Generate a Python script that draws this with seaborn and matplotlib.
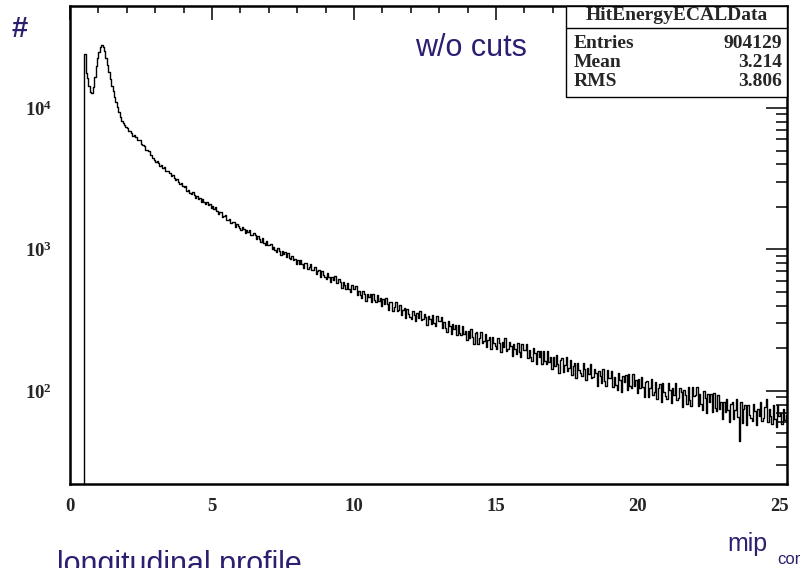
import numpy as np
import pandas as pd
import matplotlib
matplotlib.use("Agg")
import matplotlib.pyplot as plt
import seaborn as sns
from matplotlib.ticker import MultipleLocator, LogLocator, FuncFormatter, NullFormatter
from matplotlib.patches import Rectangle
from matplotlib.lines import Line2D

# ---- histogram contents: entries per 0.05 mip bin, starting at 0 ----
BIN_WIDTH = 0.05
counts_below_threshold = [0] * 10                                           # 0.0 - 0.5
counts_mip_peak = [24000, 17600, 16200, 14300, 13000, 12700, 14100, 16600, 19800, 22600,   # 0.5 - 1.0
                   25000, 26900, 27700, 27100, 25200, 22600, 20100, 18000, 16100, 14400,   # 1.0 - 1.5
                   13200, 12000, 11000, 10100, 9300, 8650, 8150, 7800, 7520, 7300]         # 1.5 - 2.0
counts_2_to_6 = [7190, 6890, 6920, 6610, 6330, 6400, 6280, 5940, 5910, 5910,
                 5580, 5460, 5420, 5070, 5030, 4930, 4620, 4660, 4450, 4280,
                 4120, 4200, 4050, 3860, 3930, 3780, 3830, 3600, 3560, 3580,
                 3470, 3280, 3350, 3220, 3090, 3150, 2980, 2880, 2960, 2820,
                 2770, 2790, 2600, 2630, 2520, 2450, 2530, 2440, 2310, 2380,
                 2290, 2320, 2180, 2270, 2150, 2110, 2180, 2070, 2090, 1970,
                 2040, 1940, 1990, 1880, 1790, 1850, 1830, 1700, 1720, 1740,
                 1620, 1610, 1650, 1530, 1560, 1560, 1450, 1520, 1460, 1420]
counts_6_to_12 = [1380, 1450, 1390, 1310, 1380, 1320, 1370, 1270, 1260, 1300,
                  1260, 1180, 1240, 1190, 1135, 1200, 1115, 1075, 1145, 1080,
                  1070, 1100, 1000, 1040, 990, 955, 1025, 980, 915, 980,
                  935, 958, 878, 940, 873, 851, 906, 841, 856, 790,
                  843, 790, 844, 786, 735, 799, 801, 725, 754, 794,
                  714, 720, 756, 672, 708, 718, 642, 704, 662, 641,
                  619, 679, 640, 588, 641, 604, 651, 576, 579, 615,
                  589, 532, 589, 560, 526, 582, 527, 504, 565, 525,
                  524, 550, 477, 511, 475, 453, 512, 481, 434, 488,
                  458, 483, 426, 485, 436, 425, 477, 430, 451, 400,
                  449, 411, 453, 411, 373, 422, 426, 369, 393, 424,
                  366, 373, 403, 343, 373, 383, 329, 378, 349, 335]
counts_12_to_18 = [322, 369, 346, 310, 353, 329, 368, 315, 320, 352,
                   335, 294, 341, 321, 298, 345, 304, 288, 341, 311,
                   312, 335, 277, 307, 279, 262, 311, 287, 252, 296,
                   273, 293, 248, 294, 255, 247, 288, 252, 267, 229,
                   266, 238, 273, 242, 215, 255, 259, 216, 237, 262,
                   218, 225, 251, 204, 229, 240, 197, 239, 217, 207,
                   199, 237, 217, 189, 223, 204, 235, 193, 197, 221,
                   209, 177, 214, 199, 181, 218, 187, 175, 216, 194,
                   196, 215, 171, 194, 174, 162, 201, 184, 156, 192,
                   175, 192, 156, 193, 162, 156, 190, 160, 173, 143,
                   173, 151, 178, 154, 134, 165, 170, 137, 153, 174,
                   139, 145, 166, 129, 149, 158, 124, 158, 141, 133]
counts_18_to_25 = [128, 158, 142, 119, 146, 131, 156, 123, 126, 144,
                   134, 109, 139, 127, 113, 142, 118, 108, 141, 123,
                   124, 139, 106, 125, 110, 101, 133, 120, 98, 128,
                   115, 129, 101, 132, 109, 104, 132, 109, 120, 96,
                   122, 104, 126, 106, 90, 115, 118, 91, 104, 122,
                   93, 99, 116, 87, 104, 111, 84, 113, 98, 92,
                   88, 113, 101, 82, 105, 93, 113, 86, 89, 105,
                   98, 77, 102, 93, 81, 107, 86, 78, 106, 92,
                   94, 107, 78, 95, 81, 73, 100, 89, 70, 95,
                   83, 95, 71, 96, 76, 72, 94, 75, 83, 63,
                   84, 71, 88, 73, 60, 81, 84, 63, 73, 87,
                   65, 44, 83, 59, 74, 79, 57, 80, 68, 64,
                   61, 81, 72, 57, 75, 66, 83, 61, 64, 77,
                   88, 60, 74, 67, 58, 79, 63, 56, 79, 67]
counts_edge = [70, 58, 74, 62, 68, 66]                                      # 25.0 - 25.3

stat_names = ["Entries", "Mean", "RMS"]
stat_values = ["904129", "3.214", "3.806"]
hist_name = "HitEnergyECALData"

counts = np.array(counts_below_threshold + counts_mip_peak + counts_2_to_6 +
                  counts_6_to_12 + counts_12_to_18 + counts_18_to_25 +
                  counts_edge, dtype=float)
n_bins = len(counts)
hist_hi = round(n_bins * BIN_WIDTH, 3)
centers = (np.arange(n_bins) + 0.5) * BIN_WIDTH
df = pd.DataFrame({"mip": centers, "entries": counts})

# ---- style ----
sns.set_theme(style="white")
plt.rcParams["font.family"] = ["Liberation Serif", "DejaVu Serif"]
plt.rcParams["font.weight"] = "bold"
plt.rcParams["mathtext.fontset"] = "custom"
plt.rcParams["mathtext.bf"] = "Liberation Serif:bold"
plt.rcParams["mathtext.rm"] = "Liberation Serif:bold"
plt.rcParams["mathtext.default"] = "bf"
NAVY = "#2a1f70"

fig = plt.figure(figsize=(8, 5.68), dpi=100)
fig.patch.set_facecolor("white")
ax = fig.add_axes([0.0875, 0.148, 0.89625, 0.8415])

sns.histplot(data=df, x="mip", weights="entries", bins=n_bins, binrange=(0, hist_hi),
             element="step", fill=False, color="black", linewidth=1.0, ax=ax)
ax.set_yscale("log")
ax.set_xlim(0, 25.25)
ax.set_ylim(22, 52600)
ax.set_xlabel("")
ax.set_ylabel("")

for sp in ax.spines.values():
    sp.set_color("black")
    sp.set_linewidth(1.8)

ax.xaxis.set_major_locator(MultipleLocator(5))
ax.xaxis.set_minor_locator(MultipleLocator(1))
ax.yaxis.set_major_locator(LogLocator(base=10, subs=(1.0,)))
ax.yaxis.set_minor_locator(LogLocator(base=10, subs=np.arange(2, 10)))
ax.yaxis.set_major_formatter(FuncFormatter(lambda v, p: rf"$10^{{{int(round(np.log10(v)))}}}$"))
ax.yaxis.set_minor_formatter(NullFormatter())

ax.tick_params(which="both", direction="in", top=True, right=True, color="black", width=1.1)
ax.tick_params(axis="x", which="major", length=10, pad=10, labelsize=13.5)
ax.tick_params(axis="x", which="minor", length=5)
ax.tick_params(axis="y", which="major", length=15, pad=13, labelsize=13.5)
ax.tick_params(axis="y", which="minor", length=8)

# ---- statistics box ----
bx0, bx1 = 566 / 800, 787 / 800
by_top, by_bot, by_sep = 1 - 6 / 568, 1 - 97 / 568, 1 - 28 / 568
fig.patches.append(Rectangle((bx0, by_bot), bx1 - bx0, by_top - by_bot,
                             transform=fig.transFigure, facecolor="white",
                             edgecolor="black", linewidth=1.0, zorder=5))
fig.lines.append(Line2D([bx0, bx1], [by_sep, by_sep], transform=fig.transFigure,
                        color="black", linewidth=1.0, zorder=6))
fig.text((bx0 + bx1) / 2, 1 - 16 / 568, hist_name, ha="center", va="center",
         fontsize=14, fontweight="bold", zorder=7)
for i, (name, val) in enumerate(zip(stat_names, stat_values)):
    yy = 1 - (44 + 18.5 * i) / 568
    fig.text(574 / 800, yy, name, ha="left", va="center", fontsize=14,
             fontweight="bold", zorder=7)
    fig.text(782 / 800, yy, val, ha="right", va="center", fontsize=14,
             fontweight="bold", zorder=7)

# ---- annotations ----
sans = ["Liberation Sans", "DejaVu Sans"]
fig.text(12 / 800, 1 - 29 / 568, "#", ha="left", va="center", fontsize=21,
         color=NAVY, family=sans, fontweight="bold")
fig.text(471 / 800, 1 - 48 / 568, "w/o cuts", ha="center", va="center", fontsize=22,
         color=NAVY, family=sans, fontweight="normal")
fig.text(727 / 800, 1 - 551 / 568, "mip", ha="left", va="baseline", fontsize=18,
         color=NAVY, family=sans, fontweight="normal")
fig.text(777 / 800, 1 - 564 / 568, "cor", ha="left", va="baseline", fontsize=12,
         color=NAVY, family=sans, fontweight="normal")
fig.text(57 / 800, 1 - 573 / 568, "longitudinal profile", ha="left", va="baseline",
         fontsize=22, color=NAVY, family=sans, fontweight="normal")

fig.savefig("out.png", dpi=100, facecolor="white")
